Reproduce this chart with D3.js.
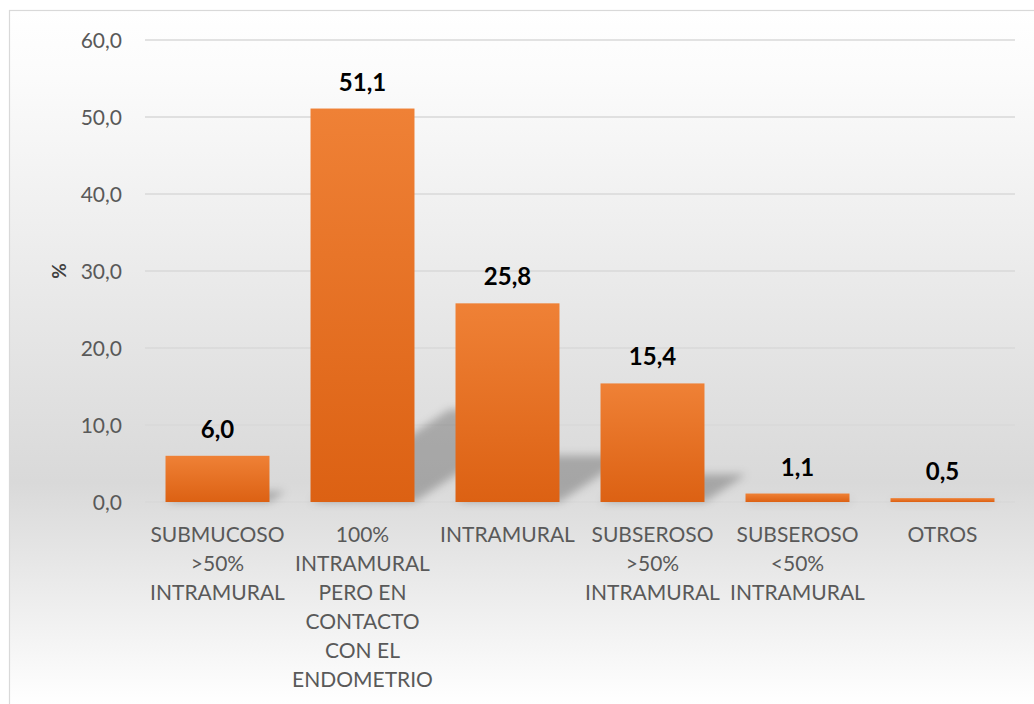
<!DOCTYPE html>
<html>
<head>
<meta charset="utf-8">
<script src="https://cdn.jsdelivr.net/npm/d3@7"></script>
<style>
  html, body { margin: 0; padding: 0; background: #fff; }
  svg { display: block; }
</style>
</head>
<body>
<svg id="chart" width="1034" height="704"></svg>
<script>
// Tipos de mioma según localización (%)
const categories = [
  "SUBMUCOSO\n>50%\nINTRAMURAL",
  "100%\nINTRAMURAL\nPERO EN\nCONTACTO\nCON EL\nENDOMETRIO",
  "INTRAMURAL",
  "SUBSEROSO\n>50%\nINTRAMURAL",
  "SUBSEROSO\n<50%\nINTRAMURAL",
  "OTROS"
];
const values = [6.0, 51.1, 25.8, 15.4, 1.1, 0.5];
const yTicks = [0, 10, 20, 30, 40, 50, 60];
const yTitle = "%";

const W = 1034, H = 704;
const margin = { left: 145, right: 19, top: 40, bottom: 202 };
const FONT = "Lato, 'Open Sans', sans-serif";
const fmt = v => d3.format(".1f")(v).replace(".", ",");

const svg = d3.select("#chart");
const defs = svg.append("defs");

// chart background: vertical grey gradient
const bg = defs.append("linearGradient")
  .attr("id", "bgGrad").attr("gradientUnits", "userSpaceOnUse")
  .attr("x1", 0).attr("y1", 10).attr("x2", 0).attr("y2", H);
bg.append("stop").attr("offset", 0).attr("stop-color", "#ffffff");
bg.append("stop").attr("offset", 0.1).attr("stop-color", "#fbfbfb");
bg.append("stop").attr("offset", 0.68).attr("stop-color", "#d9d9d9");
bg.append("stop").attr("offset", 1).attr("stop-color", "#ffffff");

// bar fill gradient
const bar = defs.append("linearGradient")
  .attr("id", "barGrad").attr("x1", 0).attr("y1", 0).attr("x2", 0).attr("y2", 1);
bar.append("stop").attr("offset", 0).attr("stop-color", "#ef8136");
bar.append("stop").attr("offset", 1).attr("stop-color", "#dc6113");

// soft shadow
defs.append("filter").attr("id", "shadowBlur")
  .attr("x", "-50%").attr("y", "-50%").attr("width", "200%").attr("height", "200%")
  .append("feGaussianBlur").attr("stdDeviation", 4);

svg.append("rect").attr("x", 9.5).attr("y", 10.5)
  .attr("width", W + 20).attr("height", H + 20)
  .attr("fill", "url(#bgGrad)").attr("stroke", "#d9d9d9").attr("stroke-width", 1.2);

const x = d3.scaleBand()
  .domain(categories)
  .range([margin.left, W - margin.right])
  .paddingInner(0.283).paddingOuter(0.1415);

const y = d3.scaleLinear()
  .domain([0, 60])
  .range([H - margin.bottom, margin.top]);

// gridlines
svg.append("g")
  .selectAll("line").data(yTicks).join("line")
  .attr("x1", margin.left).attr("x2", W - margin.right)
  .attr("y1", d => y(d)).attr("y2", d => y(d))
  .attr("stroke", "#d9d9d9").attr("stroke-width", 1.3);

// y tick labels
svg.append("g")
  .selectAll("text").data(yTicks).join("text")
  .attr("x", 122).attr("y", d => y(d))
  .attr("dy", "0.36em")
  .attr("text-anchor", "end")
  .attr("font-family", FONT).attr("font-size", 21)
  .attr("fill", "#595959")
  .text(d => fmt(d));

// y axis title
svg.append("text")
  .attr("transform", `translate(66, ${y(30)}) rotate(-90)`)
  .attr("text-anchor", "middle")
  .attr("font-family", FONT).attr("font-size", 19).attr("font-weight", "bold")
  .attr("fill", "#404040")
  .text(yTitle);

// perspective shadows cast to the right
const shadowRatio = 0.235, skew = 1.5;
svg.append("g").attr("filter", "url(#shadowBlur)")
  .selectAll("path").data(values).join("path")
  .attr("d", (d, i) => {
    const x0 = x(categories[i]), bw = x.bandwidth();
    const base = y(0);
    const sh = (base - y(d)) * shadowRatio;
    const off = sh * skew;
    return `M${x0},${base} L${x0 + bw},${base} L${x0 + bw + off},${base - sh} L${x0 + off},${base - sh} Z`;
  })
  .attr("fill", "#000").attr("fill-opacity", 0.24);

// bars
svg.append("g")
  .selectAll("rect").data(values).join("rect")
  .attr("x", (d, i) => x(categories[i]))
  .attr("y", d => y(d))
  .attr("width", x.bandwidth())
  .attr("height", d => y(0) - y(d))
  .attr("fill", "url(#barGrad)");

// value labels
svg.append("g")
  .selectAll("text").data(values).join("text")
  .attr("x", (d, i) => x(categories[i]) + x.bandwidth() / 2)
  .attr("y", d => y(d) - 18)
  .attr("text-anchor", "middle")
  .attr("font-family", FONT).attr("font-size", 24).attr("font-weight", "bold")
  .attr("fill", "#000")
  .text(d => fmt(d));

// category labels
const cat = svg.append("g")
  .selectAll("text").data(categories).join("text")
  .attr("x", d => x(d) + x.bandwidth() / 2)
  .attr("y", 542)
  .attr("text-anchor", "middle")
  .attr("font-family", FONT).attr("font-size", 21)
  .attr("fill", "#595959");
cat.each(function (d) {
  const t = d3.select(this);
  d.split("\n").forEach((line, k) => {
    t.append("tspan").attr("x", x(d) + x.bandwidth() / 2)
      .attr("y", 542 + k * 29).text(line);
  });
});
</script>
</body>
</html>
